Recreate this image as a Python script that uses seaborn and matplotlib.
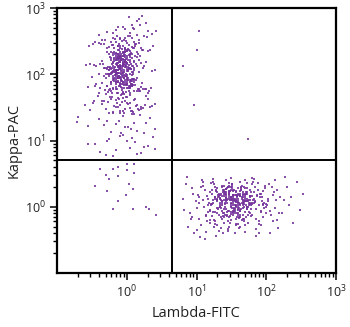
import numpy as np
import pandas as pd
import matplotlib
matplotlib.use("Agg")
import matplotlib.pyplot as plt
import seaborn as sns
from matplotlib.ticker import FixedLocator, LogLocator, LogFormatterSciNotation, NullFormatter

# ---- events, stored as log10 fluorescence (Lambda-FITC, Kappa-PAC) ----
# Kappa+ population (upper-left), broad part
kappa_pos_lambda_log = [
    0.05, 0.22, -0.12, 0.30, 0.14, -0.28, 0.08, -0.02, 0.18, 0.36,
    -0.20, 0.27, 0.11, -0.06, 0.42, 0.03, -0.40, 0.19, -0.15, 0.09,
    -0.08, 0.12, -0.31, 0.02, 0.25, -0.18, -0.45, 0.07, -0.02, 0.33,
    -0.13, -0.25, 0.04, 0.18, -0.05, -0.36, 0.10, -0.21, 0.15, 0.00,
    0.22, -0.10, -0.54, 0.06, -0.16, 0.29, -0.03, 0.13, -0.28, -0.07,
    -0.19, 0.01, -0.09, 0.16, -0.40, 0.09, -0.14, -0.02, 0.38, -0.23,
    0.05, -0.33, -0.11, -0.04, 0.20, -0.20, -0.07, 0.03, -0.15, 0.11,
    -0.26, 0.14, -0.01, -0.12, -0.48, 0.07, 0.02, -0.06, 0.24, -0.17,
    -0.09, 0.00, -0.22, 0.17, -0.13, 0.31, -0.37, -0.04, 0.08, -0.29,
    -0.05, -0.18, 0.09, -0.11, -0.02, -0.26, 0.04, -0.14, -0.08, 0.19,
    -0.21, 0.02, -0.07, -0.33, 0.12, -0.12, -0.01, -0.44, -0.16, 0.06,
    0.10, -0.09, -0.24, -0.04, 0.01, -0.15, 0.23, -0.06, -0.30, -0.11,
    -0.17, -0.03, 0.15, -0.10, -0.22, 0.05, -0.13, -0.52, 0.00, -0.07,
    0.03, -0.27, -0.08, 0.28, -0.14, -0.19, -0.01, 0.08, -0.36, -0.05,
    -0.12, 0.11, -0.20, -0.06, 0.04, -0.09, 0.36, -0.16, -0.02, -0.40,
    -0.23, -0.04, 0.07, -0.15, 0.18, -0.10, -0.31, 0.00, -0.07, 0.13,
    -0.01, -0.13, -0.47, 0.09, -0.18, 0.02, -0.08, -0.25, 0.21, -0.11,
    -0.06, 0.14, -0.21, -0.03, -0.34, 0.06, -0.14, -0.09, 0.01, -0.19,
    0.17, -0.28, -0.05, -0.12, 0.03, -0.58, -0.16, 0.10, -0.02, -0.09,
    -0.15, 0.00, -0.10, -0.22, 0.25, -0.04, 0.05, -0.38, -0.13, 0.40,
    -0.08, -0.20, 0.06, -0.13, -0.02, -0.29, 0.14, -0.06, -0.17, 0.03,
    -0.35, -0.01, -0.11, 0.20, -0.24, 0.08, -0.04, -0.15, 0.30, -0.09,
    0.02, -0.18, -0.46, -0.07, 0.11, -0.12, -0.26, 0.04, -0.03, 0.17,
    -0.14, 0.07, -0.05, -0.22, 0.26, -0.10, 0.00, -0.31, 0.13, -0.16,
    -0.06, -0.40, 0.09, -0.19, -0.01, 0.32, -0.12, 0.05, -0.27, -0.08,
    0.16, -0.09, -0.23, 0.01, -0.15, -0.04, 0.22, -0.50, -0.11, 0.10,
    -0.18, 0.04, -0.07, -0.33, 0.12, -0.21, -0.02, 0.27, -0.13, 0.06,
    -0.10, -0.25, 0.19, -0.05, -0.38, 0.00, -0.14, 0.08, 0.35, -0.20,
    0.03, -0.12, -0.28, 0.14, -0.06, -0.44, -0.17, 0.24, -0.03, 0.09,
    -0.22, 0.05, -0.09, -0.55, 0.18, -0.13, 0.01, -0.30, 0.11, -0.07,
    0.12, -0.30, 0.02, -0.10, 0.28, -0.18, 0.06, -0.47, -0.05, 0.20,
    -0.14, 0.09, -0.24, 0.33, -0.02, -0.36, 0.15, -0.08, -0.19, 0.04,
    0.24, -0.11, -0.60, 0.07, -0.27, 0.01, 0.18, -0.15, 0.40, -0.06,
    -0.21, 0.13, -0.04, -0.33, 0.21, -0.09, 0.04, -0.52, 0.10, -0.16,
    0.00, -0.26, 0.30, -0.12, -0.41, 0.08, -0.07, 0.26, -0.20, -0.02,
    0.16, -0.13, -0.35, 0.05, -0.23, 0.11, -0.48, -0.01, 0.36, -0.10,
    -0.40, 0.06, -0.15, 0.25, -0.06, -0.55, 0.14, -0.28, 0.33, -0.02,
    0.10, -0.22, -0.70, 0.02, 0.40, -0.11, -0.33, 0.19, -0.08, 0.28,
    -0.25, 0.05, -0.45, 0.20, -0.10, 0.30, -0.30, 0.00, 0.38, -0.15,
    0.12, -0.38, -0.05, 0.25, -0.20, 0.08, 0.40, -0.55, 0.15, -0.28,
]
kappa_pos_kappa_log = [
    2.62, 2.88, 2.71, 2.66, 2.80, 2.64, 2.75, 2.69, 2.83, 2.61,
    2.63, 2.77, 2.68, 2.72, 2.65, 2.86, 2.60, 2.74, 2.67, 2.70,
    2.31, 2.45, 2.52, 2.38, 2.58, 2.34, 2.49, 2.41, 2.55, 2.36,
    2.43, 2.30, 2.57, 2.47, 2.33, 2.51, 2.39, 2.44, 2.59, 2.35,
    2.37, 2.54, 2.42, 2.32, 2.48, 2.56, 2.40, 2.46, 2.34, 2.50,
    2.44, 2.36, 2.53, 2.30, 2.47, 2.39, 2.58, 2.33, 2.42, 2.49,
    2.35, 2.46, 2.31, 2.52, 2.40, 2.55, 2.38, 2.44, 2.32, 2.48,
    2.41, 2.34, 2.50, 2.37, 2.45, 2.30, 2.57, 2.43, 2.36, 2.53,
    2.39, 2.47, 2.33, 2.51, 2.42, 2.35, 2.46, 2.31, 2.54, 2.40,
    2.12, 2.25, 2.03, 2.18, 2.29, 2.07, 2.21, 2.14, 2.01, 2.27,
    2.16, 2.05, 2.23, 2.10, 2.28, 2.02, 2.19, 2.13, 2.24, 2.08,
    2.20, 2.11, 2.26, 2.04, 2.15, 2.22, 2.09, 2.17, 2.00, 2.28,
    2.06, 2.19, 2.13, 2.25, 2.02, 2.10, 2.27, 2.16, 2.08, 2.21,
    2.14, 2.01, 2.23, 2.18, 2.07, 2.29, 2.11, 2.04, 2.20, 2.12,
    2.24, 2.09, 2.17, 2.03, 2.26, 2.13, 2.05, 2.22, 2.15, 2.00,
    2.08, 2.21, 2.12, 2.27, 2.04, 2.18, 2.10, 2.25, 2.02, 2.16,
    2.19, 2.06, 2.14, 2.01, 2.23, 2.11, 2.28, 2.07, 2.17, 2.09,
    2.13, 2.26, 2.03, 2.20, 2.15, 2.08, 2.24, 2.12, 2.05, 2.18,
    2.22, 2.10, 2.16, 2.02, 2.29, 2.14, 2.06, 2.19, 2.11, 2.25,
    2.04, 2.17, 2.09, 2.21, 2.13, 2.27, 2.00, 2.15, 2.23, 2.07,
    1.92, 1.78, 1.85, 1.71, 1.97, 1.82, 1.75, 1.89, 1.94, 1.80,
    1.87, 1.73, 1.95, 1.81, 1.77, 1.90, 1.84, 1.98, 1.72, 1.86,
    1.79, 1.93, 1.83, 1.70, 1.88, 1.96, 1.76, 1.91, 1.85, 1.74,
    1.95, 1.82, 1.72, 1.89, 1.78, 1.84, 1.99, 1.76, 1.91, 1.81,
    1.86, 1.71, 1.93, 1.80, 1.97, 1.75, 1.88, 1.83, 1.73, 1.90,
    1.77, 1.94, 1.85, 1.79, 1.92, 1.70, 1.87, 1.96, 1.82, 1.74,
    1.90, 1.81, 1.76, 1.98, 1.84, 1.72, 1.89, 1.78, 1.95, 1.86,
    1.83, 1.97, 1.74, 1.88, 1.80, 1.93, 1.71, 1.85, 1.79, 1.91,
    1.75, 1.89, 1.82, 1.94, 1.73, 1.86, 1.99, 1.77, 1.92, 1.84,
    1.88, 1.72, 1.96, 1.81, 1.78, 1.90, 1.85, 1.70, 1.93, 1.80,
    1.62, 1.48, 1.55, 1.41, 1.67, 1.52, 1.45, 1.59, 1.64, 1.50,
    1.57, 1.43, 1.65, 1.51, 1.47, 1.60, 1.54, 1.68, 1.42, 1.56,
    1.49, 1.63, 1.53, 1.40, 1.58, 1.66, 1.46, 1.61, 1.55, 1.44,
    1.65, 1.52, 1.42, 1.59, 1.48, 1.54, 1.69, 1.46, 1.61, 1.51,
    1.56, 1.41, 1.63, 1.50, 1.67, 1.45, 1.58, 1.53, 1.43, 1.60,
    1.47, 1.64, 1.55, 1.49, 1.62, 1.40, 1.57, 1.66, 1.52, 1.44,
    1.32, 1.18, 1.25, 1.11, 1.37, 1.22, 1.15, 1.29, 1.34, 1.20,
    1.27, 1.13, 1.35, 1.21, 1.17, 1.30, 1.24, 1.38, 1.12, 1.26,
    1.02, 0.88, 0.95, 0.81, 1.07, 0.92, 0.78, 0.99, 1.05, 0.85,
    0.97, 0.83, 1.09, 0.90, 0.76, 1.04, 0.87, 0.94, 0.80, 1.00,
]

# Kappa+ population, dense core
kappa_core_lambda_log = [
    -0.08, -0.15, 0.02, -0.11, -0.04, -0.20, 0.05, -0.09, -0.13, 0.00,
    -0.06, -0.18, -0.01, -0.10, 0.08, -0.14, -0.03, -0.22, -0.07, 0.03,
    -0.12, -0.05, -0.16, 0.01, -0.09, -0.25, -0.02, 0.06, -0.11, -0.17,
    0.04, -0.08, -0.13, -0.19, -0.04, 0.10, -0.10, -0.01, -0.15, -0.06,
    -0.21, 0.00, -0.07, -0.12, 0.07, -0.03, -0.16, -0.09, 0.02, -0.27,
    -0.05, -0.14, 0.05, -0.10, -0.18, -0.02, -0.08, 0.12, -0.12, -0.04,
    -0.11, -0.23, -0.06, 0.01, -0.15, -0.09, -0.01, -0.20, 0.04, -0.13,
    0.09, -0.07, -0.17, -0.03, -0.10, -0.30, -0.05, 0.03, -0.14, -0.08,
    -0.16, -0.02, 0.06, -0.12, -0.06, -0.19, 0.00, -0.09, -0.24, -0.04,
    -0.10, 0.02, -0.14, -0.07, -0.21, 0.08, -0.03, -0.11, -0.17, 0.01,
    -0.04, -0.18, -0.09, 0.05, -0.13, -0.01, -0.26, -0.06, -0.11, 0.03,
    -0.15, 0.00, -0.08, -0.20, 0.07, -0.05, -0.12, -0.16, -0.02, -0.09,
    -0.07, -0.22, 0.02, -0.10, -0.14, 0.11, -0.06, -0.18, -0.03, -0.12,
    0.04, -0.09, -0.15, -0.01, -0.24, -0.07, 0.06, -0.11, -0.19, -0.04,
    -0.13, -0.05, -0.17, 0.00, -0.08, -0.28, 0.03, -0.12, -0.02, -0.16,
]
kappa_core_kappa_log = [
    2.05, 1.88, 2.21, 1.97, 2.34, 2.12, 1.79, 2.02, 2.26, 1.92,
    2.15, 2.40, 1.84, 2.08, 1.99, 2.30, 2.18, 1.75, 2.10, 2.37,
    1.95, 2.23, 2.06, 1.86, 2.28, 2.01, 2.14, 1.90, 2.45, 2.03,
    2.19, 1.81, 2.11, 2.32, 1.94, 2.07, 2.24, 2.00, 1.77, 2.16,
    2.09, 2.27, 1.96, 2.13, 1.83, 2.38, 2.04, 2.20, 1.91, 2.11,
    1.98, 2.17, 2.31, 1.87, 2.06, 2.22, 1.93, 2.42, 2.02, 1.80,
    2.25, 2.00, 2.14, 2.35, 1.89, 2.10, 2.19, 1.97, 2.29, 2.07,
    2.12, 1.85, 2.03, 2.21, 2.33, 1.95, 2.16, 2.08, 1.78, 2.26,
    2.01, 2.36, 1.92, 2.13, 2.18, 2.05, 1.84, 2.23, 2.10, 1.99,
    2.28, 2.06, 2.15, 1.90, 2.02, 2.24, 2.39, 1.96, 2.11, 2.17,
    1.94, 2.20, 2.08, 1.82, 2.30, 2.13, 2.01, 2.27, 1.98, 2.09,
    2.16, 1.89, 2.22, 2.04, 1.93, 2.32, 2.12, 1.86, 2.19, 2.43,
    2.07, 2.25, 1.95, 2.14, 2.00, 1.91, 2.28, 2.10, 2.34, 1.97,
    1.88, 2.18, 2.03, 2.23, 2.11, 1.99, 2.15, 2.37, 1.94, 2.06,
    2.21, 2.02, 2.31, 1.96, 2.13, 2.08, 1.83, 2.17, 2.26, 2.00,
]

# Lambda+ population (lower-right), broad part
lambda_pos_lambda_log = [
    0.82, 0.95, 0.88, 0.99, 0.85, 0.92, 0.97, 0.80, 0.90, 0.94,
    1.03, 1.15, 1.08, 1.19, 1.01, 1.12, 1.17, 1.05, 1.10, 1.14,
    1.06, 1.18, 1.02, 1.13, 1.09, 1.16, 0.87, 1.11, 1.04, 1.20,
    1.07, 1.14, 1.00, 1.17, 1.12, 1.03, 1.19, 1.09, 0.93, 1.15,
    1.22, 1.35, 1.28, 1.39, 1.25, 1.31, 1.37, 1.21, 1.33, 1.27,
    1.30, 1.24, 1.38, 1.26, 1.34, 1.20, 1.36, 1.29, 1.23, 1.32,
    1.27, 1.33, 1.21, 1.38, 1.25, 1.35, 1.29, 1.22, 1.31, 1.37,
    1.24, 1.36, 1.30, 1.20, 1.34, 1.28, 1.39, 1.26, 1.32, 1.23,
    1.33, 1.21, 1.29, 1.37, 1.25, 1.31, 1.22, 1.35, 1.28, 1.38,
    1.26, 1.32, 1.24, 1.30, 1.36, 1.22, 1.34, 1.27, 1.39, 1.29,
    1.42, 1.55, 1.48, 1.59, 1.45, 1.51, 1.57, 1.41, 1.53, 1.47,
    1.50, 1.44, 1.58, 1.46, 1.54, 1.40, 1.56, 1.49, 1.43, 1.52,
    1.47, 1.53, 1.41, 1.58, 1.45, 1.55, 1.49, 1.42, 1.51, 1.57,
    1.44, 1.56, 1.50, 1.40, 1.54, 1.48, 1.59, 1.46, 1.52, 1.43,
    1.53, 1.41, 1.49, 1.57, 1.45, 1.51, 1.42, 1.55, 1.48, 1.58,
    1.46, 1.52, 1.44, 1.50, 1.56, 1.42, 1.54, 1.47, 1.59, 1.49,
    1.55, 1.43, 1.51, 1.47, 1.41, 1.57, 1.45, 1.53, 1.40, 1.50,
    1.62, 1.75, 1.68, 1.79, 1.65, 1.71, 1.77, 1.61, 1.73, 1.67,
    1.70, 1.64, 1.78, 1.66, 1.74, 1.60, 1.76, 1.69, 1.63, 1.72,
    1.67, 1.73, 1.61, 1.78, 1.65, 1.75, 1.69, 1.62, 1.71, 1.77,
    1.64, 1.76, 1.70, 1.60, 1.74, 1.68, 1.79, 1.66, 1.72, 1.63,
    1.73, 1.61, 1.69, 1.77, 1.65, 1.71, 1.62, 1.75, 1.68, 1.78,
    1.66, 1.72, 1.64, 1.70, 1.76, 1.62, 1.74, 1.67, 1.79, 1.69,
    1.82, 1.95, 1.88, 1.99, 1.85, 1.91, 1.97, 1.81, 1.93, 1.87,
    1.90, 1.84, 1.98, 1.86, 1.94, 1.80, 1.96, 1.89, 1.83, 1.92,
    1.87, 1.93, 1.81, 1.98, 1.85, 1.95, 1.89, 1.82, 1.91, 1.97,
    1.84, 1.96, 1.90, 1.80, 1.94, 1.88, 1.99, 1.86, 1.92, 1.83,
    2.02, 2.15, 2.08, 2.19, 2.05, 2.11, 2.17, 2.01, 2.13, 2.07,
    2.10, 2.04, 2.18, 2.06, 2.14, 2.00, 2.16, 2.09, 2.03, 2.12,
    2.25, 2.38, 2.30, 2.52, 2.22, 2.44, 2.33, 2.27, 2.48, 2.35,
]
lambda_pos_kappa_log = [
    -0.05, 0.20, -0.30, 0.08, 0.35, -0.18, -0.40, 0.12, -0.10, 0.28,
    0.15, -0.22, 0.40, -0.05, -0.35, 0.25, 0.02, -0.45, 0.10, -0.14,
    -0.28, 0.06, 0.18, -0.38, 0.32, -0.08, 0.45, 0.00, -0.18, 0.22,
    0.30, -0.12, -0.02, 0.12, -0.48, 0.05, -0.25, 0.38, -0.15, 0.16,
    0.04, -0.16, 0.26, 0.10, -0.30, 0.18, -0.06, 0.36, 0.00, -0.22,
    0.22, -0.08, -0.40, 0.14, 0.06, -0.20, 0.30, -0.02, 0.42, -0.12,
    -0.26, 0.12, 0.02, -0.14, 0.34, -0.32, 0.08, 0.20, -0.04, 0.16,
    0.10, -0.18, 0.28, -0.06, 0.00, 0.24, -0.24, 0.14, -0.36, 0.06,
    0.18, 0.04, -0.10, 0.32, -0.20, -0.02, 0.26, 0.10, -0.44, 0.22,
    -0.08, 0.16, 0.38, -0.28, 0.08, -0.14, 0.02, 0.30, -0.04, 0.12,
    0.12, -0.06, 0.24, 0.02, -0.22, 0.34, 0.08, -0.12, 0.18, -0.30,
    0.06, 0.28, -0.16, 0.14, -0.02, 0.20, -0.26, 0.10, 0.40, -0.08,
    0.22, -0.10, 0.04, 0.16, -0.34, 0.08, 0.30, -0.04, 0.12, -0.18,
    -0.14, 0.18, 0.00, 0.26, 0.10, -0.24, 0.06, 0.36, -0.06, 0.14,
    0.02, 0.20, -0.20, 0.12, 0.30, -0.02, 0.08, -0.40, 0.24, 0.16,
    0.32, -0.12, 0.10, 0.04, -0.28, 0.18, 0.26, -0.06, 0.00, 0.14,
    -0.04, 0.10, 0.28, -0.16, 0.06, 0.22, -0.36, 0.16, -0.10, 0.44,
    0.16, -0.08, 0.30, 0.04, -0.20, 0.22, 0.10, -0.32, 0.36, -0.02,
    0.08, 0.26, -0.14, 0.18, 0.00, -0.26, 0.14, 0.40, -0.06, 0.12,
    -0.18, 0.20, 0.06, -0.04, 0.32, 0.10, -0.38, 0.24, 0.02, 0.16,
    0.28, -0.10, 0.14, 0.20, -0.24, 0.04, 0.34, -0.12, 0.08, -0.30,
    0.00, 0.18, -0.08, 0.26, 0.12, -0.16, 0.38, 0.06, -0.22, 0.22,
    0.10, -0.04, 0.30, -0.28, 0.16, 0.02, -0.12, 0.20, 0.44, 0.08,
    0.12, -0.16, 0.26, 0.00, -0.34, 0.20, 0.06, 0.38, -0.08, 0.16,
    -0.22, 0.08, 0.32, -0.04, 0.14, -0.12, 0.24, 0.02, 0.42, -0.28,
    0.18, -0.06, 0.10, 0.28, -0.18, 0.04, -0.40, 0.22, 0.14, -0.02,
    0.30, 0.02, -0.26, 0.16, 0.08, 0.36, -0.10, -0.44, 0.20, 0.06,
    0.08, -0.20, 0.30, 0.14, -0.06, 0.22, -0.32, 0.02, 0.40, -0.12,
    0.18, 0.34, -0.10, -0.40, 0.10, 0.04, 0.26, -0.22, 0.12, -0.02,
    0.10, -0.25, 0.30, 0.20, -0.10, 0.38, 0.02, 0.45, -0.05, 0.15,
]

# Lambda+ population, dense core
lambda_core_lambda_log = [
    1.48, 1.60, 1.39, 1.55, 1.67, 1.44, 1.52, 1.73, 1.35, 1.58,
    1.63, 1.42, 1.50, 1.70, 1.46, 1.56, 1.31, 1.61, 1.53, 1.77,
    1.40, 1.54, 1.66, 1.49, 1.36, 1.59, 1.71, 1.45, 1.62, 1.51,
    1.57, 1.33, 1.68, 1.47, 1.75, 1.52, 1.41, 1.64, 1.55, 1.38,
    1.69, 1.50, 1.43, 1.60, 1.27, 1.56, 1.72, 1.48, 1.65, 1.53,
    1.45, 1.62, 1.54, 1.37, 1.70, 1.49, 1.58, 1.80, 1.42, 1.61,
    1.52, 1.74, 1.40, 1.57, 1.66, 1.34, 1.51, 1.63, 1.47, 1.68,
    1.59, 1.44, 1.67, 1.53, 1.30, 1.60, 1.46, 1.72, 1.55, 1.39,
    1.64, 1.50, 1.36, 1.69, 1.58, 1.43, 1.76, 1.52, 1.61, 1.48,
    1.41, 1.65, 1.54, 1.46, 1.71, 1.57, 1.38, 1.62, 1.50, 1.84,
    1.56, 1.32, 1.60, 1.73, 1.49, 1.66, 1.44, 1.55, 1.63, 1.51,
    1.47, 1.68, 1.42, 1.58, 1.35, 1.62, 1.53, 1.78, 1.45, 1.59,
]
lambda_core_kappa_log = [
    0.10, -0.05, 0.22, 0.02, 0.15, -0.12, 0.08, 0.28, -0.02, 0.18,
    0.04, 0.20, -0.08, 0.12, 0.30, 0.00, 0.14, -0.15, 0.24, 0.06,
    0.16, -0.03, 0.09, 0.26, 0.05, -0.10, 0.19, 0.11, -0.06, 0.32,
    0.07, 0.13, -0.18, 0.21, 0.03, 0.17, -0.01, 0.25, 0.10, -0.09,
    0.18, 0.01, 0.27, -0.04, 0.12, 0.08, 0.22, -0.14, 0.15, 0.05,
    -0.07, 0.20, 0.11, 0.03, 0.29, -0.11, 0.14, 0.06, 0.23, -0.02,
    0.16, 0.09, -0.16, 0.24, 0.02, 0.13, 0.34, -0.05, 0.19, 0.07,
    0.12, -0.08, 0.05, 0.26, 0.10, -0.13, 0.21, 0.00, 0.17, 0.31,
    -0.03, 0.15, 0.08, 0.20, -0.10, 0.27, 0.04, 0.13, -0.17, 0.11,
    0.22, 0.06, -0.06, 0.18, 0.09, 0.02, 0.25, -0.12, 0.14, 0.07,
    0.01, 0.19, 0.28, -0.04, 0.12, 0.23, 0.05, -0.09, 0.16, 0.10,
    0.24, -0.01, 0.13, 0.07, 0.20, -0.15, 0.17, 0.03, 0.30, 0.09,
]

# Sparse events: double-negative corner and a few double-positives
other_lambda_log = [
    -0.38, -0.19, -0.13, -0.07, 0.01, 0.10, 0.01, -0.30, -0.26, -0.12,
    0.10, -0.46, 0.03, 0.09, -0.28, -0.01, -0.12, -0.19, 0.09, 0.28,
    0.32, 0.42, 1.04, 1.00, 0.80, 0.97, 1.74, -0.72,
]
other_kappa_log = [
    0.57, 0.57, 0.60, 0.70, 0.64, 0.64, 0.55, 0.48, 0.42, 0.46,
    0.51, 0.31, 0.34, 0.27, 0.24, 0.18, 0.09, -0.03, -0.04, 0.00,
    -0.03, -0.13, 2.66, 2.37, 2.13, 1.54, 1.03, 1.28,
]

# Quadrant gates
lambda_gate = 4.4
kappa_gate = 5.0

# Labelled decades
decade_ticks = [1, 10, 100, 1000]

x_label = "Lambda-FITC"
y_label = "Kappa-PAC"

events = pd.DataFrame({
    "lambda": np.power(10.0, np.concatenate([kappa_pos_lambda_log,
                                             kappa_core_lambda_log,
                                             lambda_pos_lambda_log,
                                             lambda_core_lambda_log,
                                             other_lambda_log])),
    "kappa": np.power(10.0, np.concatenate([kappa_pos_kappa_log,
                                            kappa_core_kappa_log,
                                            lambda_pos_kappa_log,
                                            lambda_core_kappa_log,
                                            other_kappa_log])),
})

sns.set_theme(style="white")
plt.rcParams["font.family"] = ["Open Sans", "DejaVu Sans"]

fig = plt.figure(figsize=(3.5, 3.27), dpi=100)
ax = fig.add_axes([57 / 350, 54 / 327, 279 / 350, 265 / 327])

sns.scatterplot(data=events, x="lambda", y="kappa", ax=ax,
                color="#74339a", marker="s", s=1.1, linewidth=0,
                alpha=0.85, legend=False)

ax.set_xscale("log")
ax.set_yscale("log")
ax.set_xlim(0.1, 1000)
ax.set_ylim(0.1, 1000)

ax.axvline(lambda_gate, color="black", lw=1.4, zorder=3)
ax.axhline(kappa_gate, color="black", lw=1.4, zorder=3)

for side in ["left", "right", "top", "bottom"]:
    ax.spines[side].set_visible(True)
    ax.spines[side].set_color("black")
    ax.spines[side].set_linewidth(1.6)

for axis in (ax.xaxis, ax.yaxis):
    axis.set_major_locator(FixedLocator(decade_ticks))
    axis.set_minor_locator(LogLocator(base=10, subs=np.arange(2, 10), numticks=20))
    axis.set_major_formatter(LogFormatterSciNotation())
    axis.set_minor_formatter(NullFormatter())

ax.tick_params(axis="both", which="major", direction="out", length=5,
               width=1.1, color="black", labelsize=9, labelcolor="#222222",
               bottom=True, left=True, top=False, right=False, pad=3)
ax.tick_params(axis="both", which="minor", direction="out", length=3,
               width=1.0, color="black", bottom=True, left=True,
               top=False, right=False)

ax.set_xlabel(x_label, fontsize=10.5, color="#222222", labelpad=4)
ax.set_ylabel(y_label, fontsize=10.5, color="#222222", labelpad=2)

fig.savefig("out.png", dpi=100)
